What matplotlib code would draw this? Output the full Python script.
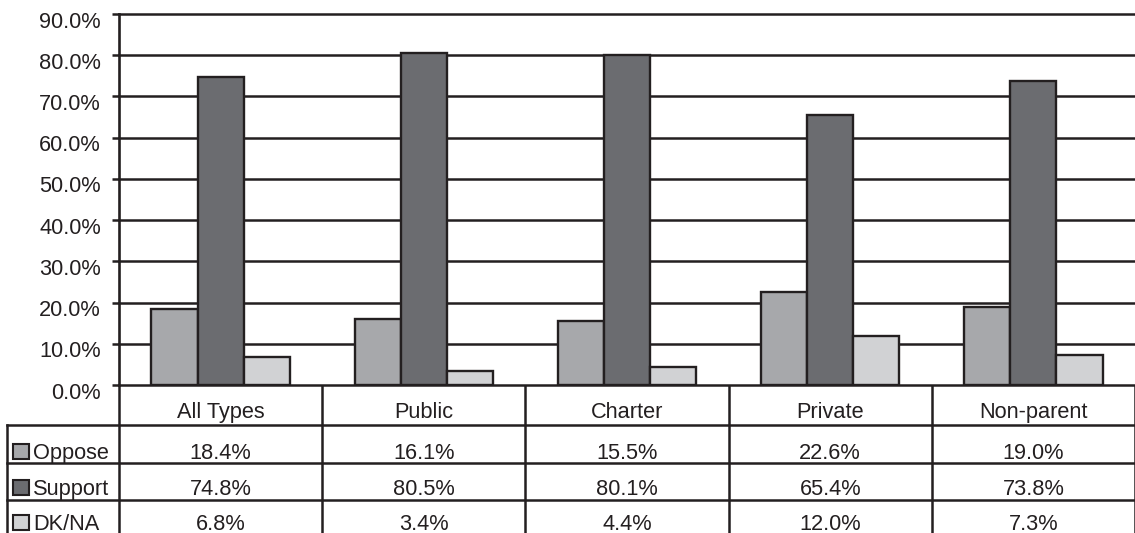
import matplotlib
matplotlib.use("Agg")
import matplotlib.pyplot as plt
import matplotlib.transforms as mtransforms
import numpy as np

plt.rcParams['font.family'] = ['Liberation Sans', 'DejaVu Sans']

categories = ['All Types', 'Public', 'Charter', 'Private', 'Non-parent']
series_names = ['Oppose', 'Support', 'DK/NA']
oppose = [18.4, 16.1, 15.5, 22.6, 19.0]
support = [74.8, 80.5, 80.1, 65.4, 73.8]
dkna = [6.8, 3.4, 4.4, 12.0, 7.3]
y_ticks = [0, 10, 20, 30, 40, 50, 60, 70, 80, 90]

colors = ['#a7a8ab', '#6b6c70', '#d1d2d4']
ink = '#231f20'

# layout in pixels
W, H = 1135, 533
left, zero_y, top_y = 119, 385, 14
row_lines = [425, 463, 500]
baselines = [459, 495, 530]
label_x0 = 7
fs = 15.7

fig = plt.figure(figsize=(W / 100, H / 100), dpi=100)

# overlay axes in pixel coords for the data table
tab = fig.add_axes([0, 0, 1, 1])
tab.set_xlim(0, W)
tab.set_ylim(H, 0)
tab.axis('off')

ax = fig.add_axes([left / W, (H - zero_y) / H, (W - left) / W, (zero_y - top_y) / H])
ax.set_xlim(-0.5, len(categories) - 0.5)
ax.set_ylim(0, 90)

x = np.arange(len(categories))
bw = 0.227
for k, (vals, c) in enumerate(zip([oppose, support, dkna], colors)):
    ax.bar(x + (k - 1) * bw, vals, bw, color=c, edgecolor=ink, linewidth=1.7, zorder=3)

for t in y_ticks:
    ax.axhline(t, color=ink, lw=1.8, zorder=1, clip_on=False)

for s in ['top', 'right', 'bottom']:
    ax.spines[s].set_visible(False)
ax.spines['left'].set_color(ink)
ax.spines['left'].set_linewidth(1.9)
ax.set_xticks([])
ax.set_yticks(y_ticks)
ax.set_yticklabels(['%.1f%%' % t for t in y_ticks])
ax.tick_params(axis='y', length=5, width=1.8, color=ink, labelsize=fs, labelcolor=ink, pad=8)
offset = mtransforms.ScaledTranslation(0, -4 / 72, fig.dpi_scale_trans)
for lab in ax.get_yticklabels():
    lab.set_transform(lab.get_transform() + offset)

# table
colw = (W - left) / len(categories)
edges = [left + i * colw for i in range(len(categories) + 1)]
for e in edges:
    tab.plot([e, e], [zero_y, H], color=ink, lw=1.8)
tab.plot([label_x0, label_x0], [row_lines[0], H], color=ink, lw=1.8)
for r in row_lines:
    tab.plot([label_x0, W], [r, r], color=ink, lw=1.8)

for i, cat in enumerate(categories):
    cx = left + (i + 0.5) * colw
    tab.text(cx, row_lines[0] - 7, cat, ha='center', va='baseline', fontsize=fs, color=ink)
    for j, vals in enumerate([oppose, support, dkna]):
        tab.text(cx, baselines[j], '%.1f%%' % vals[i], ha='center', va='baseline',
                 fontsize=fs, color=ink)

for j, name in enumerate(series_names):
    base = baselines[j]
    tab.add_patch(plt.Rectangle((13, base - 15), 16, 15, facecolor=colors[j], edgecolor=ink, lw=1.5))
    tab.text(33, base, name, ha='left', va='baseline', fontsize=fs, color=ink)

fig.savefig('out.png', dpi=100)
